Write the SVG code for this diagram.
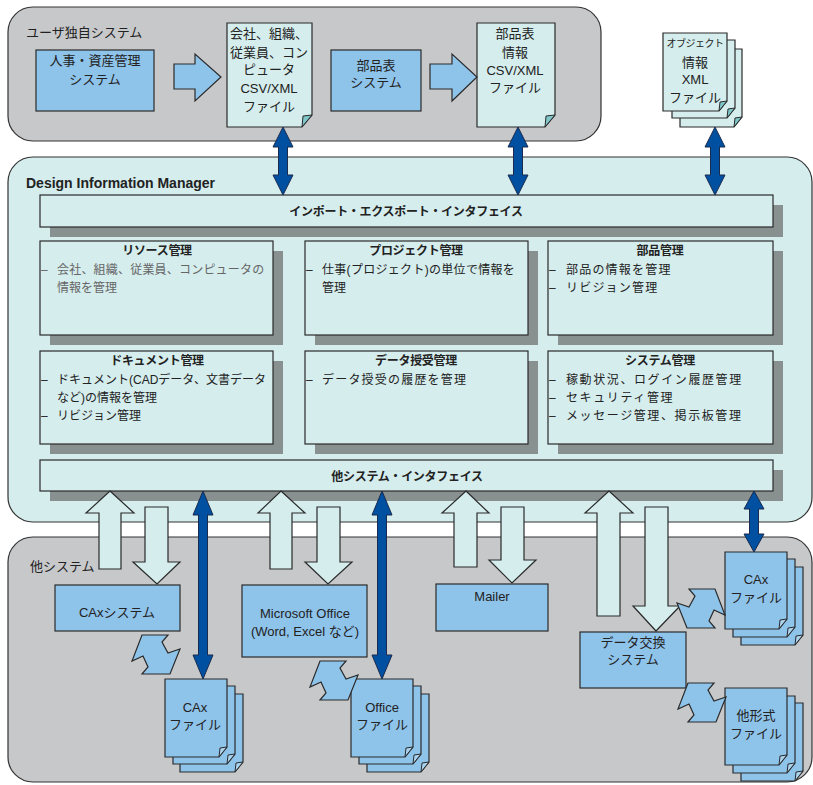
<svg xmlns="http://www.w3.org/2000/svg" width="813" height="785" viewBox="0 0 813 785">
<style>
text{font-family:"Liberation Sans","Noto Sans CJK JP",sans-serif;fill:#222;}
.panelG{fill:#c7c8ca;stroke:#333;stroke-width:1.2;}
.panelC{fill:#d5eded;stroke:#333;stroke-width:1.2;}
.box{fill:#8ec3ea;stroke:#2a2a2a;stroke-width:1.2;}
.doc{fill:#d5eded;stroke:#2a2a2a;stroke-width:1.2;}
.docb{fill:#8ec3ea;stroke:#2a2a2a;stroke-width:1.2;}
.fold{fill:#7ec6c8;stroke:#2a2a2a;stroke-width:1;}
.foldb{fill:#a9d3ef;stroke:#2a2a2a;stroke-width:1;}
.mod{fill:#d5eded;stroke:#2a2a2a;stroke-width:1.2;}
.shadow{fill:#899090;}
.blk{fill:#d5eded;stroke:#2a2a2a;stroke-width:1.2;}
.blkb{fill:#8ec3ea;stroke:#2a2a2a;stroke-width:1.2;}
.dbl{fill:#0050a2;stroke:#1b2b4d;stroke-width:1;}
.zig{fill:#8ec3ea;stroke:#2a2a2a;stroke-width:1.2;}
.t13{font-size:13px;}
.t12{font-size:12px;}
.c{text-anchor:middle;}
.title{font-size:12px;font-weight:bold;text-anchor:middle;letter-spacing:-0.3px;}
.body{font-size:12px;}
</style>
<defs>
<path id="zig" d="M10 0 L36 0 L30 7 L36 18 L48 14 L38 39 L10 39 L16 32 L11 21 L0 26 Z"/>
</defs>

<!-- panels -->
<g id="panel-user">
<rect class="panelG" x="8" y="7" width="593" height="134" rx="25"/>
<text class="t13" x="26" y="37">ユーザ独自システム</text>
</g>
<g id="panel-dim">
<rect class="panelC" x="8" y="157" width="804" height="365" rx="25"/>
<text x="26" y="188" style="font-size:14px;font-weight:bold;">Design Information Manager</text>
</g>
<g id="panel-other">
<rect class="panelG" x="8" y="537" width="804" height="245" rx="25"/>
<text class="t13" x="30" y="571">他システム</text>
</g>

<!-- top nodes -->
<g id="hr-system">
<rect class="box" x="36" y="50" width="118" height="61"/>
<text class="t13 c" x="95" y="65">人事・資産管理</text>
<text class="t13 c" x="95" y="84">システム</text>
</g>
<g id="company-file">
<path class="doc" d="M227 23 H312 V115 L302 127 H227 Z"/>
<path class="fold" d="M312 115 L303 116 L302 127 Z"/>
<text class="t13 c" x="269" y="38">会社、組織、</text>
<text class="t13 c" x="269" y="57">従業員、コン</text>
<text class="t13 c" x="269" y="74">ピュータ</text>
<text class="t13 c" x="269" y="93">CSV/XML</text>
<text class="t13 c" x="269" y="111">ファイル</text>
</g>
<g id="bom-system">
<rect class="box" x="331" y="50" width="90" height="61"/>
<text class="t13 c" x="376" y="70">部品表</text>
<text class="t13 c" x="376" y="87">システム</text>
</g>
<g id="bom-file">
<path class="doc" d="M477 23 H555 V115 L545 127 H477 Z"/>
<path class="fold" d="M555 115 L546 116 L545 127 Z"/>
<text class="t13 c" x="515" y="38">部品表</text>
<text class="t13 c" x="515" y="57">情報</text>
<text class="t13 c" x="515" y="75">CSV/XML</text>
<text class="t13 c" x="515" y="92">ファイル</text>
</g>
<g id="object-file">
<path class="doc" d="M680 49 H742 V117 L734 127 H680 Z"/>
<path class="fold" d="M742 117 L735 118 L734 127 Z"/>
<path class="doc" d="M672 40 H735 V108 L727 118 H672 Z"/>
<path class="fold" d="M735 108 L728 109 L727 118 Z"/>
<path class="doc" d="M663 33 H727 V101 L719 111 H663 Z"/>
<path class="fold" d="M727 101 L720 102 L719 111 Z"/>
<text class="c" x="695" y="47" style="font-size:10px;letter-spacing:-0.5px;">オブジェクト</text>
<text class="t13 c" x="695" y="67">情報</text>
<text class="t13 c" x="695" y="84">XML</text>
<text class="t13 c" x="695" y="102">ファイル</text>
</g>

<!-- DIM inner -->
<g id="import-export-if">
<rect class="shadow" x="50" y="205" width="733" height="32"/>
<rect class="mod" x="40" y="195" width="733" height="32"/>
<text class="title" x="406" y="216">インポート・エクスポート・インタフェイス</text>
</g>
<g id="resource-mgmt">
<rect class="shadow" x="50" y="251" width="233" height="94"/>
<rect class="mod" x="40" y="241" width="233" height="94"/>
<text class="title" x="157" y="255">リソース管理</text>
<text class="body" x="41" y="274" style="fill:#666">–</text>
<text class="body" x="57" y="274" style="fill:#666;letter-spacing:0.2px">会社、組織、従業員、コンピュータの</text>
<text class="body" x="57" y="292" style="fill:#666">情報を管理</text>
</g>
<g id="project-mgmt">
<rect class="shadow" x="315" y="251" width="223" height="94"/>
<rect class="mod" x="305" y="241" width="223" height="94"/>
<text class="title" x="416" y="255">プロジェクト管理</text>
<text class="body" x="306" y="274">–</text>
<text class="body" x="322" y="274" style="letter-spacing:0.3px">仕事(プロジェクト)の単位で情報を</text>
<text class="body" x="322" y="292">管理</text>
</g>
<g id="parts-mgmt">
<rect class="shadow" x="558" y="251" width="225" height="94"/>
<rect class="mod" x="548" y="241" width="225" height="94"/>
<text class="title" x="660" y="255">部品管理</text>
<text class="body" x="549" y="274">–</text>
<text class="body" x="566" y="274" style="letter-spacing:1.2px">部品の情報を管理</text>
<text class="body" x="549" y="292">–</text>
<text class="body" x="566" y="292" style="letter-spacing:1.2px">リビジョン管理</text>
</g>
<g id="document-mgmt">
<rect class="shadow" x="50" y="361" width="233" height="93"/>
<rect class="mod" x="40" y="351" width="233" height="93"/>
<text class="title" x="157" y="365">ドキュメント管理</text>
<text class="body" x="41" y="384">–</text>
<text class="body" x="57" y="384">ドキュメント(CADデータ、文書データ</text>
<text class="body" x="57" y="402">など)の情報を管理</text>
<text class="body" x="41" y="420">–</text>
<text class="body" x="57" y="420">リビジョン管理</text>
</g>
<g id="data-transfer-mgmt">
<rect class="shadow" x="315" y="361" width="223" height="93"/>
<rect class="mod" x="305" y="351" width="223" height="93"/>
<text class="title" x="416" y="365">データ授受管理</text>
<text class="body" x="306" y="384">–</text>
<text class="body" x="322" y="384" style="letter-spacing:1.2px">データ授受の履歴を管理</text>
</g>
<g id="system-mgmt">
<rect class="shadow" x="558" y="361" width="225" height="93"/>
<rect class="mod" x="548" y="351" width="225" height="93"/>
<text class="title" x="660" y="365">システム管理</text>
<text class="body" x="549" y="384">–</text>
<text class="body" x="566" y="384" style="letter-spacing:1.6px">稼動状況、ログイン履歴管理</text>
<text class="body" x="549" y="402">–</text>
<text class="body" x="566" y="402" style="letter-spacing:1.6px">セキュリティ管理</text>
<text class="body" x="549" y="420">–</text>
<text class="body" x="566" y="420" style="letter-spacing:1.6px">メッセージ管理、掲示板管理</text>
</g>
<g id="other-system-if">
<rect class="shadow" x="50" y="470" width="733" height="31"/>
<rect class="mod" x="40" y="460" width="733" height="31"/>
<text class="title" x="407" y="481">他システム・インタフェイス</text>
</g>

<!-- bottom nodes -->
<g id="cax-system">
<rect class="box" x="55" y="585" width="125" height="46"/>
<text class="t13 c" x="117" y="617">CAxシステム</text>
</g>
<g id="ms-office">
<rect class="box" x="242" y="585" width="125" height="72"/>
<text class="t13 c" x="305" y="618">Microsoft Office</text>
<text class="t13 c" x="305" y="636">(Word, Excel など)</text>
</g>
<g id="mailer">
<rect class="box" x="436" y="584" width="112" height="47"/>
<text class="t13 c" x="492" y="601">Mailer</text>
</g>
<g id="data-exchange">
<rect class="box" x="580" y="632" width="106" height="56"/>
<text class="t13 c" x="633" y="647">データ交換</text>
<text class="t13 c" x="633" y="664">システム</text>
</g>
<g id="cax-file-left">
<path class="docb" d="M180 694 H243 V762 L235 772 H180 Z"/>
<path class="foldb" d="M243 762 L236 763 L235 772 Z"/>
<path class="docb" d="M173 686 H235 V754 L227 764 H173 Z"/>
<path class="foldb" d="M235 754 L228 755 L227 764 Z"/>
<path class="docb" d="M165 679 H227 V747 L219 757 H165 Z"/>
<path class="foldb" d="M227 747 L220 748 L219 757 Z"/>
<text class="t13 c" x="195" y="712">CAx</text>
<text class="t13 c" x="195" y="729">ファイル</text>
</g>
<g id="office-file">
<path class="docb" d="M367 694 H429 V762 L421 772 H367 Z"/>
<path class="foldb" d="M429 762 L422 763 L421 772 Z"/>
<path class="docb" d="M359 686 H421 V754 L413 764 H359 Z"/>
<path class="foldb" d="M421 754 L414 755 L413 764 Z"/>
<path class="docb" d="M351 679 H413 V747 L405 757 H351 Z"/>
<path class="foldb" d="M413 747 L406 748 L405 757 Z"/>
<text class="t13 c" x="382" y="712">Office</text>
<text class="t13 c" x="382" y="729">ファイル</text>
</g>
<g id="cax-file-right">
<path class="docb" d="M741 567 H803 V635 L795 645 H741 Z"/>
<path class="foldb" d="M803 635 L796 636 L795 645 Z"/>
<path class="docb" d="M733 559 H795 V627 L787 637 H733 Z"/>
<path class="foldb" d="M795 627 L788 628 L787 637 Z"/>
<path class="docb" d="M725 552 H787 V619 L779 629 H725 Z"/>
<path class="foldb" d="M787 619 L780 620 L779 629 Z"/>
<text class="t13 c" x="756" y="584">CAx</text>
<text class="t13 c" x="756" y="602">ファイル</text>
</g>
<g id="other-format-file">
<path class="docb" d="M741 703 H803 V771 L795 781 H741 Z"/>
<path class="foldb" d="M803 771 L796 772 L795 781 Z"/>
<path class="docb" d="M733 696 H795 V763 L787 773 H733 Z"/>
<path class="foldb" d="M795 763 L788 764 L787 773 Z"/>
<path class="docb" d="M725 688 H787 V755 L779 765 H725 Z"/>
<path class="foldb" d="M787 755 L780 756 L779 765 Z"/>
<text class="t13 c" x="756" y="720">他形式</text>
<text class="t13 c" x="756" y="738">ファイル</text>
</g>

<!-- connectors -->
<g id="connectors">
<path class="blkb" d="M174 64 H195 V54 L221 77 L195 101 V89 H174 Z"/>
<path class="blkb" d="M430 64 H452 V54 L477 77 L452 101 V89 H430 Z"/>

<path class="dbl" d="M283 127 L293 147 H287.5 V175 H293 L283 195 L273 175 H278.5 V147 H273 Z"/>
<path class="dbl" d="M518 127 L528 147 H522.5 V175 H528 L518 195 L508 175 H513.5 V147 H508 Z"/>
<path class="dbl" d="M715 127 L725 147 H719.5 V175 H725 L715 195 L705 175 H710.5 V147 H705 Z"/>

<path class="dbl" d="M203 491 L213 515 H207.5 V655 H213 L203 679 L193 655 H198.5 V515 H193 Z"/>
<path class="dbl" d="M382 491 L392 515 H386.5 V655 H392 L382 679 L372 655 H377.5 V515 H372 Z"/>
<path class="dbl" d="M754 491 L764 509 H758.5 V534 H764 L754 552 L744 534 H749.5 V509 H744 Z"/>

<path class="blk" d="M110 491 L134 513 H121 V569 H99 V513 H86 Z"/>
<path class="blk" d="M145 507 H168 V562 H180 L157 584 L133 562 H145 Z"/>
<path class="blk" d="M281 491 L305 513 H292 V569 H270 V513 H258 Z"/>
<path class="blk" d="M317 507 H340 V562 H352 L328 584 L305 562 H317 Z"/>
<path class="blk" d="M466 491 L489 513 H477 V567 H454 V513 H442 Z"/>
<path class="blk" d="M501 507 H524 V560 H536 L512 583 L489 560 H501 Z"/>
<path class="blk" d="M609 491 L633 513 H620 V616 H597 V513 H585 Z"/>
<path class="blk" d="M645 507 H668 V606 H680 L656 631 L633 606 H645 Z"/>

<use href="#zig" class="zig" transform="translate(132,635)"/>
<use href="#zig" class="zig" transform="translate(310,661)"/>
<use href="#zig" class="zig" transform="translate(725,589) scale(-1,1)"/>
<use href="#zig" class="zig" transform="translate(678,683)"/>
</g>
</svg>
